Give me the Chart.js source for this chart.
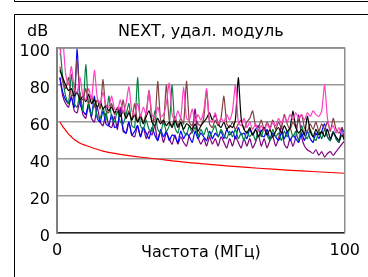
<!DOCTYPE html>
<html>
<head>
<meta charset="utf-8">
<script src="https://cdn.jsdelivr.net/npm/chart.js@4.4.1/dist/chart.umd.min.js"></script>
<style>
  html, body { margin: 0; padding: 0; background: #fff; }
  canvas { display: block; }
</style>
</head>
<body>
<canvas id="nextChart" width="368" height="277"></canvas>
<script>
// frequency points (MHz) shared by the measured pairs
const freq = [1, 2, 3, 4, 5, 6, 7, 8, 9, 10,
  11, 12, 13, 14, 15, 16, 17, 18, 19, 20,
  21, 22, 23, 24, 25, 26, 27, 28, 29, 30,
  31, 32, 33, 34, 35, 36, 37, 38, 39, 40,
  41, 42, 43, 44, 45, 46, 47, 48, 49, 50,
  51, 52, 53, 54, 55, 56, 57, 58, 59, 60,
  61, 62, 63, 64, 65, 66, 67, 68, 69, 70,
  71, 72, 73, 74, 75, 76, 77, 78, 79, 80,
  81, 82, 83, 84, 85, 86, 87, 88, 89, 90,
  91, 92, 93, 94, 95, 96, 97, 98, 99, 100];

const pink = [96, 104, 86, 80, 90, 78, 76, 84, 74, 72,
  78, 72, 88, 73, 70, 76, 69, 68, 74, 67,
  66, 72, 65, 70, 79, 66, 64, 70, 63, 68,
  64, 77, 64, 62, 68, 63, 64, 70, 81, 64,
  61, 66, 62, 79, 62, 61, 67, 60, 64, 61,
  66, 78, 61, 60, 65, 59, 62, 60, 64, 61,
  66, 80, 60, 58, 62, 57, 60, 56, 59, 55,
  58, 55, 59, 56, 60, 58, 62, 59, 63, 60,
  64, 61, 65, 62, 64, 61, 65, 63, 66, 64,
  63, 66, 80, 62, 56, 58, 54, 57, 53, 55];
const green = [102, 84, 74, 70, 86, 70, 68, 76, 66, 91,
  68, 64, 70, 63, 62, 68, 61, 74, 62, 60,
  66, 60, 59, 64, 70, 58, 57, 84, 58, 56,
  61, 56, 55, 66, 56, 54, 60, 55, 58, 80,
  57, 54, 60, 55, 53, 58, 54, 57, 52, 56,
  53, 57, 52, 55, 58, 52, 56, 53, 51, 55,
  52, 56, 51, 54, 50, 55, 52, 54, 50, 56,
  52, 57, 53, 50, 56, 52, 54, 50, 55, 52,
  57, 52, 55, 50, 58, 53, 51, 56, 52, 50,
  55, 51, 56, 52, 50, 55, 51, 49, 54, 50];
const brown = [90, 82, 78, 84, 74, 76, 94, 74, 72, 78,
  70, 74, 68, 72, 67, 83, 66, 65, 70, 64,
  68, 63, 72, 62, 66, 61, 70, 60, 64, 60,
  65, 77, 61, 60, 82, 61, 59, 80, 61, 58,
  63, 58, 62, 59, 82, 60, 58, 63, 59, 58,
  62, 77, 59, 57, 61, 58, 62, 74, 59, 57,
  60, 56, 59, 61, 56, 60, 62, 66, 58, 57,
  61, 56, 60, 57, 61, 56, 60, 57, 64, 59,
  56, 60, 57, 61, 64, 57, 55, 59, 56, 60,
  55, 59, 56, 60, 55, 62, 56, 54, 57, 53];
const black = [88, 84, 80, 77, 78, 74, 76, 72, 74, 71,
  75, 70, 72, 68, 71, 67, 69, 66, 68, 65,
  67, 63, 66, 62, 65, 61, 64, 60, 63, 59,
  63, 66, 60, 58, 62, 59, 61, 58, 60, 57,
  61, 57, 60, 56, 59, 58, 56, 59, 55, 58,
  60, 62, 65, 61, 64, 59, 57, 60, 56, 58,
  57, 61, 84, 62, 56, 54, 57, 53, 56, 52,
  55, 57, 53, 56, 52, 55, 57, 54, 58, 55,
  57, 66, 57, 54, 56, 53, 63, 55, 52, 56,
  53, 55, 52, 56, 51, 54, 52, 50, 53, 50];
const blue = [84, 76, 72, 70, 73, 68, 100, 70, 66, 64,
  70, 63, 74, 62, 60, 66, 59, 58, 64, 57,
  58, 66, 56, 54, 60, 53, 55, 58, 52, 57,
  54, 51, 57, 53, 50, 56, 52, 55, 50, 53,
  52, 49, 55, 51, 54, 52, 49, 55, 51, 54,
  52, 50, 55, 51, 54, 52, 55, 51, 56, 53,
  55, 51, 57, 53, 54, 51, 56, 53, 56, 58,
  53, 52, 56, 51, 54, 52, 50, 54, 51, 55,
  50, 53, 51, 49, 54, 50, 55, 51, 49, 54,
  51, 55, 59, 52, 50, 55, 51, 49, 57, 50];
const purple = [84, 74, 70, 68, 74, 66, 65, 72, 64, 62,
  70, 62, 60, 68, 60, 58, 65, 58, 57, 63,
  56, 68, 55, 54, 60, 53, 52, 58, 52, 57,
  51, 55, 53, 58, 50, 55, 49, 54, 51, 48,
  53, 48, 52, 49, 47, 53, 55, 67, 52, 48,
  51, 47, 52, 48, 51, 47, 52, 49, 46, 51,
  47, 52, 49, 46, 51, 47, 51, 46, 49, 53,
  47, 51, 46, 50, 52, 47, 51, 58, 48, 46,
  51, 47, 52, 64, 52, 47, 45, 44, 43, 45,
  42, 44, 41, 43, 44, 42, 44, 46, 48, 50];

// limit line
const limitFreq = [1, 2, 3, 4, 5, 6, 8, 10, 13, 16, 20, 25, 30, 35, 40, 50, 60, 70, 80, 90, 100];
const limitDb = [60, 57.5, 55.5, 53.5, 52, 50.5, 48.5, 47.3, 45.7, 44.3, 43, 41.8, 40.8, 40, 39, 37.5, 36.2, 35, 34, 33.1, 32.3];

const xTicks = [0, 100];
const yTicks = [0, 20, 40, 60, 80, 100];

const FONT = "'DejaVu Sans', sans-serif";

function pairs(xs, ys) {
  return xs.map((x, i) => ({ x: x, y: ys[i] }));
}

function line(values, color) {
  return {
    data: pairs(freq, values),
    borderColor: color,
    borderWidth: 1.2,
    pointRadius: 0,
    tension: 0.2,
  };
}

// white page, outer frame, plot box and the texts
const framePlugin = {
  id: "frame",
  beforeDraw(chart) {
    const ctx = chart.ctx;
    ctx.save();
    ctx.fillStyle = "#fff";
    ctx.fillRect(0, 0, chart.width, chart.height);
    ctx.strokeStyle = "#000";
    ctx.lineWidth = 1;
    ctx.beginPath();
    ctx.moveTo(14.5, 0);
    ctx.lineTo(14.5, 1.5);
    ctx.lineTo(chart.width, 1.5);
    ctx.moveTo(14.5, chart.height);
    ctx.lineTo(14.5, 14.5);
    ctx.lineTo(chart.width, 14.5);
    ctx.stroke();
    ctx.restore();
  },
  afterDraw(chart) {
    const ctx = chart.ctx;
    const a = chart.chartArea;
    ctx.save();
    ctx.strokeStyle = "#8c8c8c";
    ctx.lineWidth = 1.5;
    ctx.beginPath();
    ctx.moveTo(a.left, a.top);
    ctx.lineTo(a.right, a.top);
    ctx.lineTo(a.right, a.bottom);
    ctx.stroke();

    ctx.fillStyle = "#000";
    ctx.font = "16px " + FONT;
    ctx.textBaseline = "alphabetic";
    ctx.textAlign = "center";
    ctx.fillText("NEXT, удал. модуль", (a.left + a.right) / 2, 36);
    ctx.fillText("Частота (МГц)", (a.left + a.right) / 2, 257);
    ctx.textAlign = "left";
    ctx.fillText("dB", 27, 36);
    ctx.restore();
  },
};

new Chart(document.getElementById("nextChart"), {
  type: "line",
  data: {
    datasets: [
      line(pink, "#ff40c0"),
      line(black, "#000000"),
      line(brown, "#804040"),
      line(green, "#008040"),
      line(blue, "#0000ff"),
      line(purple, "#800080"),
      {
        data: pairs(limitFreq, limitDb),
        borderColor: "#ff0000",
        borderWidth: 1.2,
        pointRadius: 0,
        tension: 0.4,
      },
    ],
  },
  options: {
    responsive: false,
    animation: false,
    layout: { padding: { left: 0, top: 48, right: 11, bottom: 0 } },
    plugins: {
      legend: { display: false },
      tooltip: { enabled: false },
    },
    scales: {
      x: {
        type: "linear",
        min: 0,
        max: 100,
        afterBuildTicks: (scale) => {
          scale.ticks = xTicks.map((v) => ({ value: v }));
        },
        afterFit: (scale) => {
          scale.height = 44;
        },
        grid: { display: false, drawTicks: false },
        border: { display: true, color: "#222", width: 1.5 },
        ticks: {
          padding: 8,
          color: "#000",
          font: { family: FONT, size: 16 },
          maxRotation: 0,
          autoSkip: false,
        },
      },
      y: {
        min: 0,
        max: 100,
        afterBuildTicks: (scale) => {
          scale.ticks = yTicks.map((v) => ({ value: v }));
        },
        afterFit: (scale) => {
          scale.width = 57;
        },
        grid: { color: "#999", lineWidth: 1.5, drawTicks: false },
        border: { display: true, color: "#808080", width: 2 },
        ticks: {
          padding: 7,
          labelOffset: 4,
          color: "#000",
          font: { family: FONT, size: 16 },
        },
      },
    },
  },
  plugins: [framePlugin],
});
</script>
</body>
</html>
